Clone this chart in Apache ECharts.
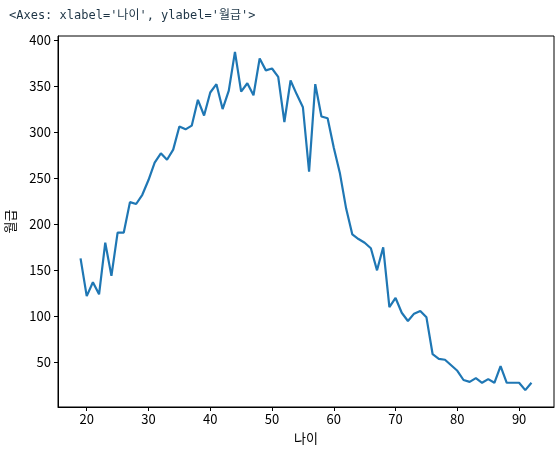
<!DOCTYPE html>
<html>
<head>
<meta charset="utf-8">
<script src="https://cdn.jsdelivr.net/npm/echarts@6/dist/echarts.min.js"></script>
<style>
html,body{margin:0;padding:0;background:#fff;}
#c{width:557px;height:449px;}
</style>
</head>
<body>
<div id="c"></div>
<script>
const ages = [19,20,21,22,23,24,25,26,27,28,29,30,31,32,33,34,35,36,37,38,39,40,41,42,43,44,45,46,47,48,49,50,51,52,53,54,55,56,57,58,59,60,61,62,63,64,65,66,67,68,69,70,71,72,73,74,75,76,77,78,79,80,81,82,83,84,85,86,87,88,89,90,91,92];
const salary = [163,122,137,124,180,144,191,191,224,222,232,248,267,277,270,281,306,303,307,335,318,343,352,325,345,387,344,353,340,380,367,369,360,311,356,341,327,257,352,317,315,283,255,217,189,184,180,174,150,175,110,120,104,95,103,106,99,59,54,53,47,41,31,29,33,28,32,28,46,28,28,28,20,28];
const xTicks = [20,30,40,50,60,70,80,90];
const yTicks = [50,100,150,200,250,300,350,400];
const xLabel = '나이';
const yLabel = '월급';
const header = "<Axes: xlabel='나이', ylabel='월급'>";

const chart = echarts.init(document.getElementById('c'), null, {renderer:'canvas'});
const font = '"Noto Sans CJK KR", "Noto Sans", sans-serif';
chart.setOption({
  animation:false,
  backgroundColor:'#fff',
  title:{
    text: header, left:4, top:5,
    textStyle:{fontFamily:'"DejaVu Sans Mono", "Noto Sans CJK KR", monospace', fontSize:12, fontWeight:'normal', color:'#1d3445'}
  },
  grid:{left:58, right:3, top:36, bottom:42, containLabel:false, outerBoundsMode:'none', show:true, borderColor:'#000', borderWidth:1},
  xAxis:{
    type:'value', min:15.35, max:95.65,
    name:xLabel, nameLocation:'middle', nameGap:25,
    nameTextStyle:{fontFamily:font, fontSize:13, color:'#000'},
    axisLine:{show:true, onZero:false, lineStyle:{color:'#000', width:1}},
    axisTick:{show:true, length:4, lineStyle:{color:'#000'}, customValues:xTicks},
    axisLabel:{fontFamily:font, fontSize:13, color:'#000', margin:6, customValues:xTicks},
    splitLine:{show:false}
  },
  yAxis:{
    type:'value', min:1.7, max:404.3,
    name:yLabel, nameLocation:'middle', nameGap:41, nameRotate:90,
    nameTextStyle:{fontFamily:font, fontSize:13, color:'#000'},
    axisLine:{show:true, onZero:false, lineStyle:{color:'#000', width:1}},
    axisTick:{show:true, length:4, lineStyle:{color:'#000'}, customValues:yTicks},
    axisLabel:{fontFamily:font, fontSize:13, color:'#000', margin:7, customValues:yTicks},
    splitLine:{show:false}
  },
  series:[{
    type:'line',
    data: ages.map((a,i)=>[a, salary[i]]),
    showSymbol:false,
    lineStyle:{color:'#1f77b4', width:2.2},
    itemStyle:{color:'#1f77b4'}
  }]
});
</script>
</body>
</html>
